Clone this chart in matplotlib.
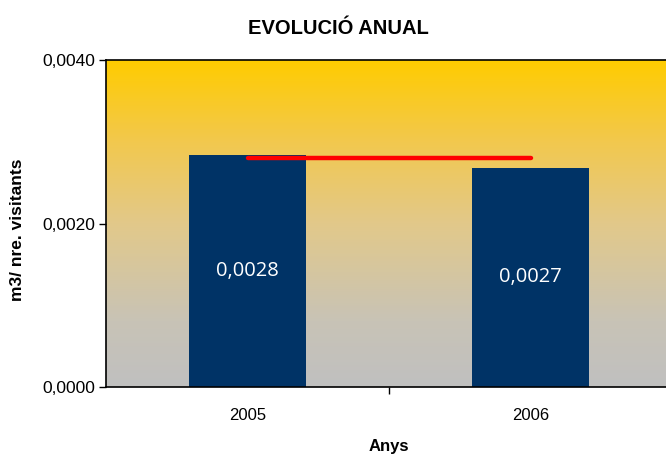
import matplotlib
matplotlib.use("Agg")
import matplotlib.pyplot as plt
import numpy as np
from matplotlib.colors import LinearSegmentedColormap
from matplotlib.ticker import FuncFormatter

years = ["2005", "2006"]
values = [0.00284, 0.00268]
value_labels = ["0,0028", "0,0027"]
average = 0.0028
yticks = [0.0, 0.0020, 0.0040]

plt.rcParams['font.family'] = ['Liberation Sans', 'DejaVu Sans']

fig = plt.figure(figsize=(6.66, 4.57), dpi=100)
ax = fig.add_axes([106/666, 1-387/457, 566/666, 327/457])

x = np.arange(len(years))
ax.set_xlim(-0.5, 1.5)
ax.set_ylim(0, 0.0040)

# gradient background
cmap = LinearSegmentedColormap.from_list(
    "bg", [(0.0, "#C0C0C0"), (0.2, "#C8C3B6"), (0.5, "#E2C98A"),
           (0.75, "#F2C84E"), (1.0, "#FFCC00")])
grad = np.linspace(0, 1, 256).reshape(-1, 1)
ax.imshow(grad, aspect='auto', cmap=cmap, origin='lower',
          extent=[-0.5, 1.5, 0, 0.0040], zorder=0)

bars = ax.bar(x, values, width=0.41, color="#003366", zorder=2)
for xi, v, lab in zip(x, values, value_labels):
    ax.text(xi, v/2, lab, ha='center', va='center', color='white',
            fontsize=14.5, family=['Open Sans', 'DejaVu Sans'], zorder=4)

ax.plot(x, [average]*len(x), color="#FF0000", lw=3.2,
        solid_capstyle='round', zorder=3)

ax.set_yticks(yticks)
ax.yaxis.set_major_formatter(FuncFormatter(lambda v, p: f"{v:.4f}".replace('.', ',')))
ax.tick_params(axis='y', labelsize=12.5, length=5, width=1, direction='out', pad=3)

ax.set_xticks(x)
ax.set_xticklabels(years)
ax.set_xticks([0.5], minor=True)
ax.tick_params(axis='x', which='major', length=0, labelsize=12, pad=15)
ax.tick_params(axis='x', which='minor', length=5, width=1, direction='out')

for s in ['left', 'top', 'bottom']:
    ax.spines[s].set_linewidth(1.2)
    ax.spines[s].set_color('black')
ax.spines['right'].set_visible(False)

ax.set_xlabel("Anys", fontsize=12, fontweight='bold', labelpad=12)
fig.text(18/666, 1-230/457, "m3/ nre. visitants", rotation=90, ha='center',
         va='center', fontsize=12.5, fontweight='bold')
fig.text(338/666, 1-28/457, "EVOLUCIÓ ANUAL", ha='center', va='center',
         fontsize=14.5, fontweight='bold')

fig.savefig("out.png", dpi=100)
